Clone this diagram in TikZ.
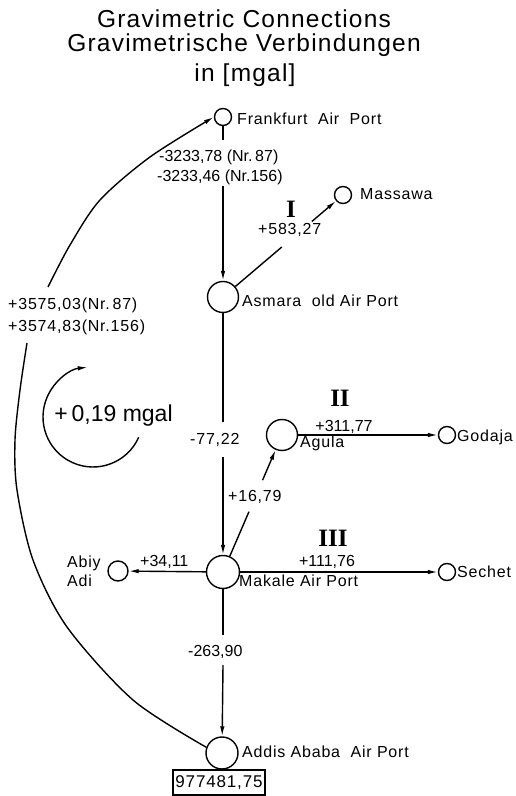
\documentclass[tikz,border=0pt]{standalone}
\usepackage{fontspec}
\setmainfont{Liberation Sans}
\newfontfamily\romfont{Liberation Serif}
\newfontfamily\ttlfont[LetterSpace=5]{Liberation Sans}
\newfontfamily\stnfont[LetterSpace=5]{Liberation Sans}
\usetikzlibrary{arrows.meta,calc}
\begin{document}
\begin{tikzpicture}[x=1pt,y=1pt,
  stn/.style={circle,draw,line width=1.4pt,inner sep=0pt,minimum size=17pt},
  bigstn/.style={circle,draw,line width=1.4pt,inner sep=0pt,minimum size=31pt},
  conn/.style={line width=1.4pt},
  arr/.style={conn,-{Latex[length=10pt,width=4.5pt]}},
  lbl/.style={inner sep=0pt,anchor=base west,font=\fontsize{16}{18}\selectfont},
  slbl/.style={inner sep=0pt,anchor=base west,font=\stnfont\fontsize{16}{18}\selectfont},
  clbl/.style={inner sep=0pt,anchor=base,font=\fontsize{16}{18}\selectfont},
  roman/.style={inner sep=0pt,anchor=base,font=\romfont\bfseries\fontsize{25}{27}\selectfont},
  ttl/.style={inner sep=0pt,anchor=base,font=\ttlfont\fontsize{24.5}{26}\selectfont},
]
\useasboundingbox (0,0) rectangle (516,796);
% title
\node[ttl] (t1) at (244,768) {Gravimetric Connections};
\node[ttl] (t2) at (244,744) {Gravimetrische Verbindungen};
\node[ttl] (t3) at (245,714) {in [mgal]};
% stations
\node[stn] (FR) at (223,679) {};
\node[bigstn] (AS) at (223,499) {};
\node[stn] (MA) at (343,601) {};
\node[bigstn] (AG) at (282,361) {};
\node[stn] (GO) at (447,361) {};
\node[bigstn,minimum size=33pt] (MK) at (223,224) {};
\node[stn] (SE) at (447,224) {};
\node[stn,minimum size=20pt] (AB) at (118,225) {};
\node[bigstn,minimum size=32pt] (AD) at (222,43) {};
\node[draw,line width=1.2pt,minimum width=92pt,minimum height=25pt,inner sep=0pt,font=\stnfont\fontsize{17}{19}\selectfont] (BX) at (219,13.5) {977481,75};
% station names
\node[slbl] (nFR) at (237,671) {Frankfurt\ \ Air\ \ Port};
\node[slbl] (nMA) at (360,596) {Massawa};
\node[slbl] (nAS) at (242,489) {Asmara\ \ old Air Port};
\node[slbl] (nAG) at (300,348) {Agula};
\node[slbl] (nGO) at (457,354) {Godaja};
\node[slbl] (nSE) at (457,218) {Sechet};
\node[slbl] (nMK) at (239,209) {Makale Air Port};
\node[slbl] (nAB1) at (67,228) {Abiy};
\node[slbl] (nAB2) at (67,209) {Adi};
\node[slbl] (nAD) at (242,38) {Addis Ababa\ \ Air Port};
% values
\node[lbl] (v1a) at (159,634) {-3233,78 (Nr.\,87)};
\node[lbl] (v1b) at (157,614) {-3233,46 (Nr.156)};
\node[slbl] (v2) at (258,561) {+583,27};
\node[roman] (r1) at (291,578) {I};
\node[slbl] (v3a) at (8,486) {+3575,03(Nr.\,87)};
\node[slbl] (v3b) at (8,464) {+3574,83(Nr.156)};
\node[slbl] (v4) at (190,351) {-77,22};
\node[roman] (r2) at (340,389) {II};
\node[clbl] (v5) at (344,364) {+311,77};
\node[slbl] (v6) at (228,294) {+16,79};
\node[roman] (r3) at (333,249) {III};
\node[clbl] (v7) at (327,229) {+111,76};
\node[lbl] (v8) at (140,229) {+34,11};
\node[lbl] (v9) at (188,139) {-263,90};
\node[inner sep=0pt,anchor=base,font=\fontsize{23}{25}\selectfont] (sum) at (113.5,374) {+\,0,19 mgal};
% gap coordinates
\coordinate (g1a) at (223,656);
\coordinate (g1b) at (223,610);
\coordinate (g2a) at ($(AS)!0.49!(MA)$);
\coordinate (g2b) at ($(AS)!0.74!(MA)$);
\coordinate (g3a) at (223,374);
\coordinate (g3b) at (223,339);
\coordinate (g4a) at ($(MK)!0.44!(AG)$);
\coordinate (g4b) at ($(MK)!0.67!(AG)$);
\coordinate (g5a) at (223,161);
\coordinate (g5b) at (223,131);
\coordinate (c1) at (27,453);
\coordinate (c2) at (48,509);
\coordinate (cc) at (93,379);
% connectors
\draw[conn] (FR) -- (g1a);
\draw[arr] (g1b) -- (AS);
\draw[conn] (AS) -- (g2a);
\draw[arr] (g2b) -- (MA);
\draw[conn] (AS) -- (g3a);
\draw[arr] (g3b) -- (MK);
\draw[conn] (MK) -- (g4a);
\draw[arr] (g4b) -- (AG);
\draw[arr] (AG) -- (GO);
\draw[arr] (MK) -- (SE);
\draw[arr] (MK) -- (AB);
\draw[conn] (MK) -- (g5a);
\draw[arr] (g5b) -- (AD);
\draw[conn] plot[smooth] coordinates {(AD.160) (133,96) (67,169) (33,236) (17,306) (15,356) (20,406) (c1)};
\draw[arr] plot[smooth] coordinates {(c2) (70,551) (100,596) (150,639) (FR.west)};
\draw[arr] ($(cc)+(-24:50)$) arc[start angle=-24,end angle=-264,radius=50];
\end{tikzpicture}
\end{document}
